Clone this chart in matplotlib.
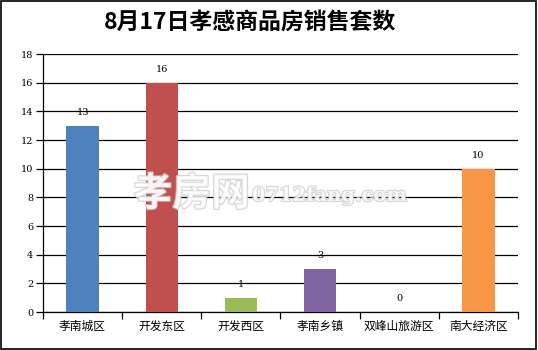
import matplotlib.pyplot as plt
import matplotlib.patheffects as pe
from matplotlib.patches import Rectangle

plt.rcParams['font.family'] = ['Noto Sans CJK SC', 'DejaVu Sans']

districts = ['孝南城区', '开发东区', '开发西区', '孝南乡镇', '双峰山旅游区', '南大经济区']
sales = [13, 16, 1, 3, 0, 10]
colors = ['#4F81BD', '#C0504D', '#9BBB59', '#8064A2', '#4BACC6', '#F79646']
yticks = list(range(0, 19, 2))

fig = plt.figure(figsize=(5.38, 3.5), dpi=100)
ax = fig.add_axes([43 / 538, 1 - 312 / 350, (518 - 43) / 538, (312 - 54) / 350])

x = list(range(len(districts)))
ax.bar(x, sales, width=0.41, color=colors, zorder=3)
for xi, v in zip(x, sales):
    ax.text(xi, v + 0.6, str(v), ha='center', va='bottom', fontsize=7,
            family='DejaVu Serif', zorder=4)

ax.set_xlim(-0.5, len(districts) - 0.5)
ax.set_ylim(0, 18)
ax.set_yticks(yticks)
ax.set_yticklabels([str(t) for t in yticks], fontsize=7, family='DejaVu Serif')
ax.yaxis.grid(True, color='black', linewidth=0.9, zorder=0)

ax.set_xticks(x)
ax.set_xticklabels(districts, fontsize=8.5)
ax.set_xticks([i - 0.5 for i in range(len(districts) + 1)], minor=True)
ax.tick_params(axis='x', which='major', length=0, pad=6)
ax.tick_params(axis='x', which='minor', length=5, width=0.9, direction='out')
ax.tick_params(axis='y', length=5, width=0.9, direction='out', pad=2)

for s in ['top', 'right']:
    ax.spines[s].set_visible(False)
for s in ['left', 'bottom']:
    ax.spines[s].set_linewidth(0.9)

# watermark
fig.text(250 / 538, 1 - 194 / 350, '孝房网', fontsize=28, color='white',
         alpha=0.75, ha='right', va='center', fontweight='bold', zorder=10,
         path_effects=[pe.withStroke(linewidth=1.5, foreground='#c8c8c8')])
fig.text(252 / 538, 1 - 196 / 350, '0712fang.com', fontsize=14, color='white',
         alpha=0.75, ha='left', va='center', family='DejaVu Serif', fontweight='bold',
         zorder=10, path_effects=[pe.withStroke(linewidth=1.5, foreground='#c8c8c8')])

fig.text(250 / 538, 1 - 22 / 350, '8月17日孝感商品房销售套数', fontsize=16.5,
         fontweight='bold', ha='center', va='center')

fig.patches.append(Rectangle((0.002, 0.003), 0.994, 0.993, transform=fig.transFigure,
                             fill=False, edgecolor='black', linewidth=1.2))

fig.savefig('out.png', dpi=100)
